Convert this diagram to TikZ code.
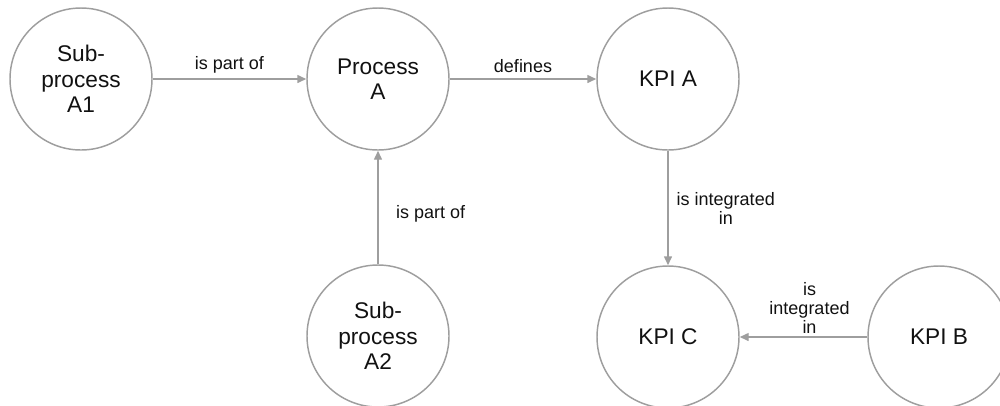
\documentclass[tikz,border=0pt]{standalone}
\usepackage{fontspec}
\setmainfont{Liberation Sans}
\usetikzlibrary{arrows.meta}
\definecolor{edgegray}{HTML}{9E9E9E}
\definecolor{inkblack}{HTML}{111111}
\begin{document}
\begin{tikzpicture}[x=0.75pt,y=-0.75pt,
  concept/.style={circle, draw=edgegray, line width=1.1pt, minimum size=106.5pt,
    inner sep=0pt, align=center, text=inkblack, font=\fontsize{17}{19}\selectfont},
  rel/.style={draw=edgegray, line width=1.1pt,
    -{Triangle[length=6.75pt,width=6pt]}},
  lbl/.style={font=\fontsize{13.5}{14.25}\selectfont, align=center,
    inner sep=0pt, text=inkblack}]
\useasboundingbox (0,0) rectangle (1000,405);

% concepts
\node[concept] (a1) at (81,79)  {Sub-\\process\\A1};
\node[concept] (pa) at (378,79) {Process\\A};
\node[concept] (ka) at (668,79) {KPI A};
\node[concept] (a2) at (378,336) {Sub-\\process\\A2};
\node[concept] (kc) at (668,337) {KPI C};
\node[concept] (kb) at (939,337) {KPI B};

% relations
\draw[rel] (a1) -- node[lbl, above=4pt] {is part of} (pa);
\draw[rel] (pa) -- node[lbl, above=4pt] {defines} (ka);
\draw[rel] (a2) -- node[lbl, right=13pt, yshift=-4.5pt] {is part of} (pa);
\draw[rel] (ka) -- node[lbl, right=6pt] {is integrated\\in} (kc);
\draw[rel] (kb) -- node[lbl, above=2pt, xshift=4.5pt] {is\\integrated\\in} (kc);
\end{tikzpicture}
\end{document}
